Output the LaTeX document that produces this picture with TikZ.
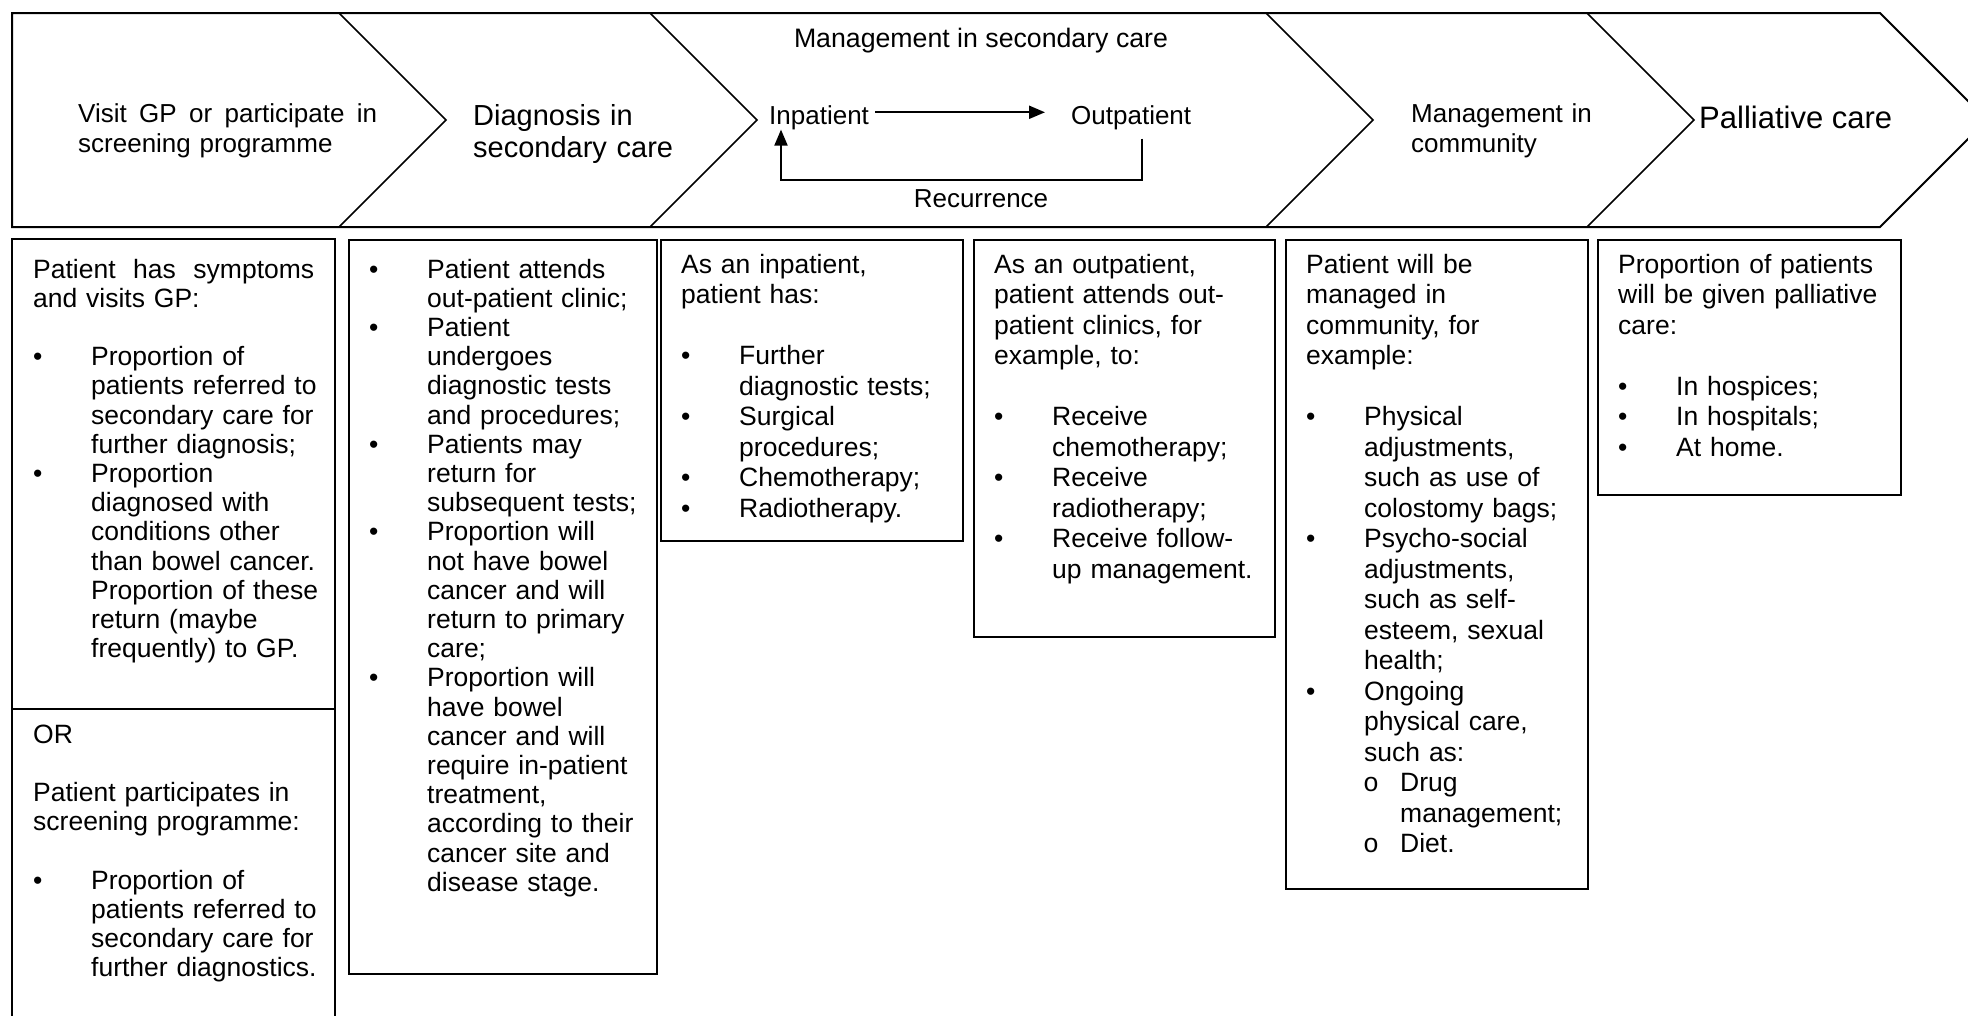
\documentclass[tikz,border=0pt]{standalone}
\usepackage{fontspec}
\setmainfont{Liberation Sans}
\newfontfamily\circfont{Liberation Mono}
\usetikzlibrary{arrows.meta}

% type sizes (1pt = 1 pixel of the finished picture)
\newcommand\bodyfont{\fontsize{26.5}{29.2}\selectfont}
\newcommand\bodyfontb{\fontsize{26.5}{30.5}\selectfont}
\newcommand\headfont{\fontsize{26}{30}\selectfont}
\newcommand\diagfont{\fontsize{29}{32}\selectfont}
\newcommand\palfont{\fontsize{31}{33}\selectfont}

% bulleted paragraph, text hanging at 58pt
\newcommand\bpar[1]{\noindent\hangindent=58pt\hangafter=0\llap{\makebox[58pt][l]{\textbullet}}#1\par}
% second-level paragraph with an open circle
\newcommand\opar[1]{\noindent\hangindent=94pt\hangafter=0\llap{\makebox[37pt][l]{\circfont o}}#1\par}
% plain paragraph
\newcommand\ppar[1]{\noindent#1\par}
% empty line
\newcommand\blankline{\vskip\baselineskip}

\tikzset{
  body/.style={anchor=base west, inner sep=0pt, text width=#1, align=left, font=\bodyfont},
  bodyb/.style={anchor=base west, inner sep=0pt, text width=#1, align=left, font=\bodyfontb},
  head/.style={anchor=base west, inner sep=0pt, text width=#1, align=left, font=\headfont},
  frame/.style={draw, line width=2pt, inner sep=0pt, anchor=north west},
  outline/.style={line width=2pt, line join=miter},
  divider/.style={line width=1.5pt},
  arr/.style={line width=2pt, -{Triangle[length=16pt,width=13pt]}},
  lbl/.style={inner sep=0pt, font=\headfont}
}

\begin{document}
\begin{tikzpicture}[x=1pt,y=-1pt]
\useasboundingbox (0,0) rectangle (1968,1015);
\clip (0,0) rectangle (1968,1015);
\fill[white] (0,0) rectangle (1968,1015);

% ---------- process banner ----------
\draw[outline] (12,13) -- (1880,13) -- (1987,120) -- (1880,227) -- (12,227) -- cycle;
\foreach \t in {339,650,1266,1587}
  \draw[divider] (\t,13) -- (\t+107,120) -- (\t,227);

\node[head=330pt] (s1) at (78,122)
  {\makebox[299pt][l]{Visit\hfill GP\hfill or\hfill participate\hfill in}\newline screening programme};
\node[anchor=base west, inner sep=0pt, text width=260pt, align=left, font=\diagfont] (s2) at (473,125)
  {Diagnosis in\newline secondary care};
\node[lbl, anchor=base, font=\fontsize{26.7}{30}\selectfont] (s3) at (981,47) {Management in secondary care};
\node[lbl, anchor=base west] (inp) at (769,124) {Inpatient};
\node[lbl, anchor=base west] (outp) at (1071,124) {Outpatient};
\node[lbl, anchor=base] (rec) at (981,207) {Recurrence};
\node[head=250pt] (s4) at (1411,122) {Management in\newline community};
\node[anchor=base west, inner sep=0pt, font=\palfont] (s5) at (1699,128) {Palliative care};

% inpatient / outpatient cycle
\draw[arr] ([xshift=6pt,yshift=5pt]inp.east) -- ([xshift=-26pt,yshift=5pt]outp.west);
\coordinate (rs) at ([xshift=11pt,yshift=-9pt]outp.south);
\coordinate (re) at ([xshift=12pt]inp.south west);
\coordinate (rb) at ([yshift=9pt]rec.north);
\draw[arr] (rs) |- (rb) -| (re);

% ---------- detail boxes ----------
% box 1 runs off the bottom edge and is split in two
\coordinate (f1tl) at (12,239);
\coordinate (f1tr) at (335,239);
\draw[outline] (12,1030) -- (f1tl) -- (f1tr) -- (335,1030);
\draw[outline] (12,709) -- (335,709);
\node[frame, minimum width=308pt, minimum height=734pt] (f2) at (348,239) {};
\node[frame, minimum width=302pt, minimum height=301pt] (f3) at (660,239) {};
\node[frame, minimum width=301pt, minimum height=397pt] (f4) at (973,239) {};
\node[frame, minimum width=302pt, minimum height=649pt] (f5) at (1285,239) {};
\node[frame, minimum width=303pt, minimum height=255pt] (f6) at (1597,239) {};

\node[body=310pt] (t1a) at (33,278) {%
  \ppar{\makebox[281pt][l]{Patient\hfill has\hfill symptoms}\newline and visits GP:}%
  \blankline
  \bpar{Proportion of\newline patients referred to\newline secondary care for\newline further diagnosis;}%
  \bpar{Proportion\newline diagnosed with\newline conditions other\newline than bowel cancer.\newline Proportion of these\newline return (maybe\newline frequently) to GP.}};

\node[body=310pt] (t1b) at (33,743) {%
  \ppar{OR}%
  \blankline
  \ppar{Patient participates in\newline screening programme:}%
  \blankline
  \bpar{Proportion of\newline patients referred to\newline secondary care for\newline further diagnostics.}};

\node[body=300pt] (t2) at (369,278) {%
  \bpar{Patient attends\newline out-patient clinic;}%
  \bpar{Patient\newline undergoes\newline diagnostic tests\newline and procedures;}%
  \bpar{Patients may\newline return for\newline subsequent tests;}%
  \bpar{Proportion will\newline not have bowel\newline cancer and will\newline return to primary\newline care;}%
  \bpar{Proportion will\newline have bowel\newline cancer and will\newline require in-patient\newline treatment,\newline according to their\newline cancer site and\newline disease stage.}};

\node[bodyb=290pt] (t3) at (681,273) {%
  \ppar{As an inpatient,\newline patient has:}%
  \blankline
  \bpar{Further\newline diagnostic tests;}%
  \bpar{Surgical\newline procedures;}%
  \bpar{Chemotherapy;}%
  \bpar{Radiotherapy.}};

\node[bodyb=290pt] (t4) at (994,273) {%
  \ppar{As an outpatient,\newline patient attends out-\newline patient clinics, for\newline example, to:}%
  \blankline
  \bpar{Receive\newline chemotherapy;}%
  \bpar{Receive\newline radiotherapy;}%
  \bpar{Receive follow-\newline up management.}};

\node[bodyb=290pt] (t5) at (1306,273) {%
  \ppar{Patient will be\newline managed in\newline community, for\newline example:}%
  \blankline
  \bpar{Physical\newline adjustments,\newline such as use of\newline colostomy bags;}%
  \bpar{Psycho-social\newline adjustments,\newline such as self-\newline esteem, sexual\newline health;}%
  \bpar{Ongoing\newline physical care,\newline such as:}%
  \opar{Drug\newline management;}%
  \opar{Diet.}};

\node[bodyb=290pt] (t6) at (1618,273) {%
  \ppar{Proportion of patients\newline will be given palliative\newline care:}%
  \blankline
  \bpar{In hospices;}%
  \bpar{In hospitals;}%
  \bpar{At home.}};
\end{tikzpicture}
\end{document}
